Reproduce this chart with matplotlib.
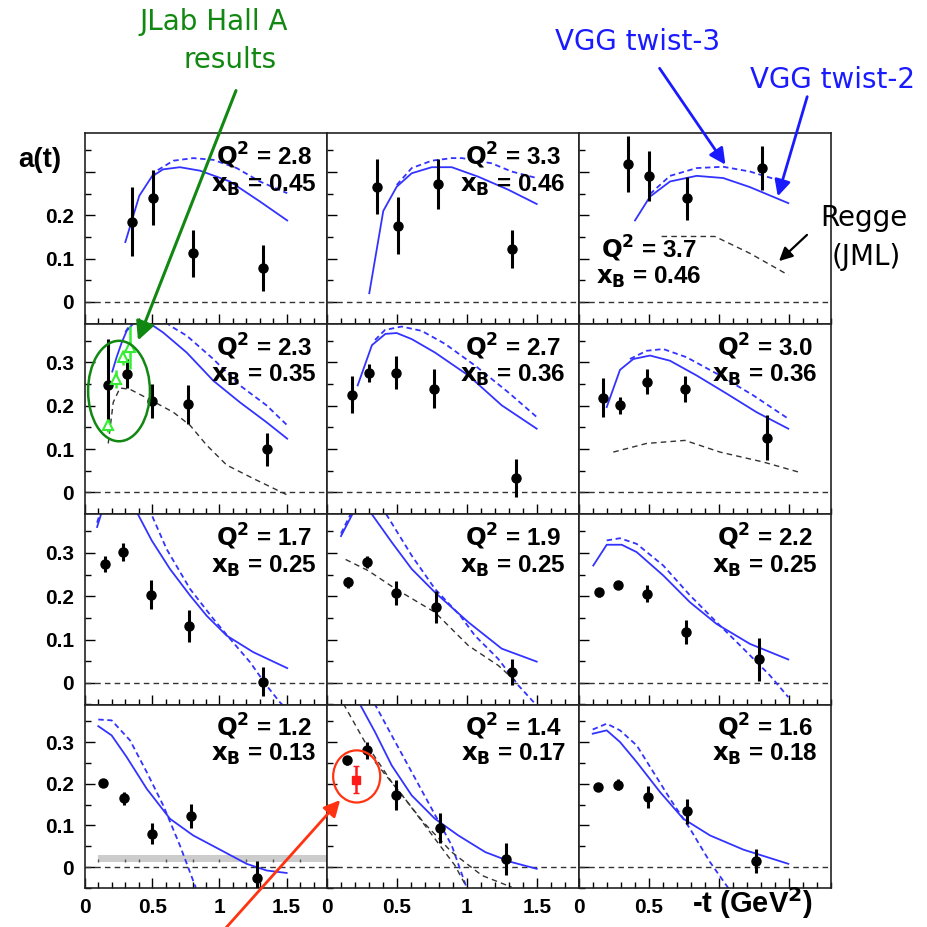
import matplotlib
matplotlib.use("Agg")
import matplotlib.pyplot as plt
from matplotlib.patches import Ellipse
from matplotlib.ticker import MultipleLocator
import numpy as np

plt.rcParams['font.family'] = ['Liberation Sans', 'DejaVu Sans']

# kinematic bins, row by row
q2_vals = ['2.8', '3.3', '3.7', '2.3', '2.7', '3.0', '1.7', '1.9', '2.2', '1.2', '1.4', '1.6']
xb_vals = ['0.45', '0.46', '0.46', '0.35', '0.36', '0.36', '0.25', '0.25', '0.25', '0.13', '0.17', '0.18']

# measured a(t): -t, value, error
t_28 = [0.347, 0.508, 0.80, 1.326]
a_28 = [0.185, 0.241, 0.112, 0.079]
e_28 = [0.080, 0.063, 0.054, 0.053]
t_33 = [0.355, 0.505, 0.79, 1.324]
a_33 = [0.266, 0.176, 0.272, 0.122]
e_33 = [0.063, 0.066, 0.057, 0.043]
t_37 = [0.352, 0.50, 0.769, 1.305]
a_37 = [0.318, 0.291, 0.239, 0.309]
e_37 = [0.065, 0.057, 0.050, 0.050]
t_23 = [0.173, 0.31, 0.496, 0.768, 1.356]
a_23 = [0.248, 0.274, 0.211, 0.203, 0.099]
e_23 = [0.107, 0.033, 0.040, 0.044, 0.039]
t_27 = [0.181, 0.30, 0.49, 0.766, 1.35]
a_27 = [0.226, 0.276, 0.276, 0.239, 0.034]
e_27 = [0.042, 0.020, 0.038, 0.045, 0.044]
t_30 = [0.174, 0.293, 0.488, 0.757, 1.34]
a_30 = [0.218, 0.201, 0.256, 0.239, 0.126]
e_30 = [0.045, 0.020, 0.028, 0.030, 0.052]
t_17 = [0.149, 0.285, 0.488, 0.776, 1.326]
a_17 = [0.275, 0.302, 0.204, 0.132, 0.003]
e_17 = [0.018, 0.020, 0.034, 0.037, 0.034]
t_19 = [0.148, 0.283, 0.49, 0.779, 1.319]
a_19 = [0.232, 0.279, 0.208, 0.176, 0.025]
e_19 = [0.012, 0.014, 0.028, 0.037, 0.030]
t_22 = [0.145, 0.281, 0.488, 0.764, 1.288]
a_22 = [0.209, 0.226, 0.206, 0.118, 0.054]
e_22 = [0.010, 0.010, 0.020, 0.028, 0.050]
t_12 = [0.136, 0.29, 0.50, 0.786, 1.281]
a_12 = [0.202, 0.165, 0.080, 0.122, -0.026]
e_12 = [0.009, 0.015, 0.025, 0.029, 0.040]
t_14 = [0.141, 0.283, 0.49, 0.81, 1.276]
a_14 = [0.256, 0.280, 0.172, 0.094, 0.020]
e_14 = [0.010, 0.020, 0.036, 0.037, 0.039]
t_16 = [0.138, 0.281, 0.491, 0.769, 1.264]
a_16 = [0.192, 0.198, 0.168, 0.134, 0.014]
e_16 = [0.009, 0.014, 0.027, 0.030, 0.029]

# VGG twist-2 (solid) and twist-3 (dashed)
tw2_t_28 = [0.30, 0.404, 0.496, 0.58, 0.706, 0.855, 1.078, 1.30, 1.504]
tw2_a_28 = [0.138, 0.245, 0.289, 0.306, 0.311, 0.303, 0.278, 0.232, 0.188]
tw3_t_28 = [0.496, 0.545, 0.657, 0.805, 0.954, 1.128, 1.30, 1.504]
tw3_a_28 = [0.289, 0.305, 0.326, 0.332, 0.328, 0.309, 0.278, 0.251]
tw2_t_33 = [0.302, 0.402, 0.498, 0.605, 0.748, 0.891, 1.081, 1.295, 1.498]
tw2_a_33 = [0.020, 0.210, 0.266, 0.297, 0.311, 0.311, 0.289, 0.259, 0.226]
tw3_t_33 = [0.498, 0.605, 0.748, 0.891, 0.964, 1.176, 1.319, 1.498]
tw3_a_33 = [0.270, 0.309, 0.326, 0.332, 0.332, 0.320, 0.301, 0.286]
tw2_t_37 = [0.40, 0.507, 0.65, 0.84, 1.03, 1.221, 1.495]
tw2_a_37 = [0.188, 0.243, 0.278, 0.291, 0.286, 0.265, 0.228]
tw3_t_37 = [0.507, 0.65, 0.84, 1.03, 1.221, 1.495]
tw3_a_37 = [0.249, 0.291, 0.309, 0.312, 0.301, 0.274]
tw2_t_23 = [0.203, 0.235, 0.273, 0.31, 0.36, 0.42, 0.483, 0.582, 0.756, 0.954, 1.152, 1.35, 1.504]
tw2_a_23 = [0.279, 0.312, 0.346, 0.373, 0.390, 0.395, 0.390, 0.369, 0.323, 0.258, 0.208, 0.162, 0.124]
tw3_t_23 = [0.30, 0.36, 0.45, 0.55, 0.632, 0.756, 0.954, 1.152, 1.35, 1.504]
tw3_a_23 = [0.370, 0.400, 0.420, 0.410, 0.385, 0.362, 0.308, 0.247, 0.201, 0.155]
tw2_t_27 = [0.219, 0.321, 0.417, 0.498, 0.605, 0.771, 1.01, 1.248, 1.498]
tw2_a_27 = [0.247, 0.340, 0.366, 0.368, 0.354, 0.323, 0.270, 0.201, 0.147]
tw3_t_27 = [0.343, 0.414, 0.533, 0.676, 0.843, 1.057, 1.295, 1.498]
tw3_a_27 = [0.352, 0.375, 0.383, 0.373, 0.343, 0.293, 0.231, 0.174]
tw2_t_30 = [0.198, 0.293, 0.388, 0.507, 0.65, 0.84, 1.055, 1.269, 1.495]
tw2_a_30 = [0.197, 0.283, 0.308, 0.316, 0.304, 0.270, 0.228, 0.185, 0.147]
tw3_t_30 = [0.364, 0.483, 0.602, 0.769, 1.007, 1.245, 1.495]
tw3_a_30 = [0.308, 0.327, 0.331, 0.312, 0.270, 0.224, 0.170]
tw2_t_17 = [0.09, 0.14, 0.20, 0.28, 0.35, 0.396, 0.496, 0.632, 0.781, 0.905, 1.054, 1.251, 1.504]
tw2_a_17 = [0.360, 0.410, 0.450, 0.460, 0.420, 0.388, 0.329, 0.263, 0.202, 0.155, 0.109, 0.071, 0.034]
tw3_t_17 = [0.09, 0.20, 0.30, 0.40, 0.496, 0.607, 0.781, 0.954, 1.078, 1.227, 1.35, 1.45, 1.50]
tw3_a_17 = [0.370, 0.480, 0.490, 0.450, 0.388, 0.309, 0.217, 0.148, 0.102, 0.048, -0.006, -0.045, -0.060]
tw2_t_19 = [0.10, 0.19, 0.24, 0.319, 0.462, 0.605, 0.771, 1.01, 1.248, 1.498]
tw2_a_19 = [0.339, 0.395, 0.410, 0.390, 0.325, 0.263, 0.209, 0.140, 0.079, 0.049]
tw3_t_19 = [0.10, 0.20, 0.30, 0.426, 0.605, 0.771, 0.952, 1.057, 1.224, 1.367, 1.486, 1.50]
tw3_a_19 = [0.345, 0.410, 0.430, 0.388, 0.294, 0.217, 0.155, 0.109, 0.055, -0.006, -0.048, -0.053]
tw2_t_22 = [0.102, 0.198, 0.305, 0.412, 0.602, 0.793, 0.983, 1.221, 1.495]
tw2_a_22 = [0.271, 0.319, 0.319, 0.302, 0.248, 0.186, 0.136, 0.090, 0.054]
tw3_t_22 = [0.198, 0.293, 0.412, 0.602, 0.793, 0.983, 1.174, 1.364, 1.495]
tw3_a_22 = [0.329, 0.334, 0.321, 0.271, 0.202, 0.140, 0.079, 0.017, -0.033]
tw2_t_12 = [0.099, 0.198, 0.31, 0.459, 0.632, 0.805, 1.004, 1.202, 1.351, 1.50]
tw2_a_12 = [0.338, 0.316, 0.264, 0.188, 0.116, 0.076, 0.042, 0.008, -0.008, -0.014]
tw3_t_12 = [0.099, 0.198, 0.335, 0.459, 0.582, 0.706, 0.818, 0.83]
tw3_a_12 = [0.354, 0.352, 0.304, 0.228, 0.148, 0.052, -0.044, -0.055]
tw2_t_14 = [0.20, 0.236, 0.343, 0.462, 0.605, 0.771, 0.938, 1.131, 1.319, 1.498]
tw2_a_14 = [0.420, 0.390, 0.324, 0.244, 0.172, 0.116, 0.076, 0.036, 0.012, -0.004]
tw3_t_14 = [0.25, 0.343, 0.462, 0.605, 0.748, 0.891, 0.998, 1.01]
tw3_a_14 = [0.450, 0.390, 0.316, 0.228, 0.140, 0.052, -0.050, -0.060]
tw2_t_16 = [0.098, 0.198, 0.293, 0.412, 0.579, 0.745, 0.936, 1.174, 1.495]
tw2_a_16 = [0.320, 0.328, 0.300, 0.252, 0.180, 0.116, 0.076, 0.042, 0.008]
tw3_t_16 = [0.098, 0.198, 0.293, 0.412, 0.531, 0.65, 0.793, 0.936, 1.066, 1.08]
tw3_a_16 = [0.330, 0.344, 0.328, 0.292, 0.228, 0.164, 0.092, 0.012, -0.050, -0.058]

# Regge (JML)
rg_t_37 = [0.59, 0.971, 1.221, 1.495]
rg_a_37 = [0.151, 0.151, 0.112, 0.062]
rg_t_23 = [0.173, 0.21, 0.26, 0.335, 0.496, 0.657, 0.781, 0.905, 1.054, 1.251, 1.504]
rg_a_23 = [0.113, 0.208, 0.241, 0.238, 0.212, 0.185, 0.155, 0.109, 0.063, 0.032, -0.006]
rg_t_30 = [0.245, 0.483, 0.757, 1.007, 1.317, 1.567]
rg_a_30 = [0.093, 0.113, 0.120, 0.093, 0.070, 0.047]
rg_t_19 = [0.133, 0.295, 0.49, 0.771, 1.01, 1.224, 1.367]
rg_a_19 = [0.285, 0.259, 0.217, 0.163, 0.086, 0.040, -0.002]
rg_t_14 = [0.117, 0.271, 0.462, 0.688, 0.891, 1.107, 1.319]
rg_a_14 = [0.392, 0.300, 0.204, 0.108, 0.036, -0.020, -0.048]
rg2_t_14 = [0.343, 0.557, 0.771, 0.914, 1.00]
rg2_a_14 = [0.252, 0.164, 0.068, 0.004, -0.050]

# JLab Hall A points (Q2 = 2.3 bin) and extra point in Q2 = 1.4 bin
jlab_t = [0.173, 0.23, 0.28, 0.335]
jlab_a = [0.155, 0.262, 0.312, 0.335]
jlab_e = [0.015, 0.020, 0.017, 0.050]
red_t = [0.207]
red_a = [0.210]
red_e = [0.032]

# systematic band, Q2 = 1.2 bin
band_t = [0.1, 1.8]
band_lo = [0.012, 0.012]
band_hi = [0.028, 0.028]
band_marks = [0.1, 0.3, 0.4, 0.6, 0.8, 1.0, 1.2, 1.4, 1.6]

data = [(t_28, a_28, e_28), (t_33, a_33, e_33), (t_37, a_37, e_37),
        (t_23, a_23, e_23), (t_27, a_27, e_27), (t_30, a_30, e_30),
        (t_17, a_17, e_17), (t_19, a_19, e_19), (t_22, a_22, e_22),
        (t_12, a_12, e_12), (t_14, a_14, e_14), (t_16, a_16, e_16)]
twist2 = [(tw2_t_28, tw2_a_28), (tw2_t_33, tw2_a_33), (tw2_t_37, tw2_a_37),
          (tw2_t_23, tw2_a_23), (tw2_t_27, tw2_a_27), (tw2_t_30, tw2_a_30),
          (tw2_t_17, tw2_a_17), (tw2_t_19, tw2_a_19), (tw2_t_22, tw2_a_22),
          (tw2_t_12, tw2_a_12), (tw2_t_14, tw2_a_14), (tw2_t_16, tw2_a_16)]
twist3 = [(tw3_t_28, tw3_a_28), (tw3_t_33, tw3_a_33), (tw3_t_37, tw3_a_37),
          (tw3_t_23, tw3_a_23), (tw3_t_27, tw3_a_27), (tw3_t_30, tw3_a_30),
          (tw3_t_17, tw3_a_17), (tw3_t_19, tw3_a_19), (tw3_t_22, tw3_a_22),
          (tw3_t_12, tw3_a_12), (tw3_t_14, tw3_a_14), (tw3_t_16, tw3_a_16)]
regge = {2: [(rg_t_37, rg_a_37)], 3: [(rg_t_23, rg_a_23)], 5: [(rg_t_30, rg_a_30)],
         7: [(rg_t_19, rg_a_19)], 10: [(rg_t_14, rg_a_14), (rg2_t_14, rg2_a_14)]}

BLUE = '#3333ff'

fig = plt.figure(figsize=(9.27, 9.27), dpi=100)
gs = fig.add_gridspec(4, 3, left=85/927, right=831/927, top=1-133/927, bottom=1-888/927,
                      wspace=0, hspace=0, width_ratios=[242, 252, 252],
                      height_ratios=[190.5, 190.5, 190.5, 183.5])

axes = []
for i in range(12):
    r, c = divmod(i, 3)
    ax = fig.add_subplot(gs[r, c])
    axes.append(ax)
    ax.set_xlim(0, 1.8)
    ax.set_ylim(-0.05, 0.39)
    ax.axhline(0, color='#333333', lw=1.0, ls=(0, (4, 3)))

    if i == 9:
        ax.fill_between(band_t, band_lo, band_hi, color='#cccccc', lw=0, zorder=1)
        ax.vlines(band_marks, band_lo[0], band_lo[0] + 0.008, color='#555555', lw=1)

    t2, a2 = twist2[i]
    ax.plot(t2, a2, color=BLUE, lw=1.3)
    t3, a3 = twist3[i]
    ax.plot(t3, a3, color=BLUE, lw=1.3, ls=(0, (3, 2)))
    for tr, ar in regge.get(i, []):
        ax.plot(tr, ar, color='#333333', lw=1.0, ls=(0, (4, 3)))

    t, a, e = data[i]
    ax.errorbar(t, a, yerr=e, fmt='o', color='black', ms=6.5, elinewidth=2.2,
                capsize=0, zorder=5)

    if i == 2:
        qx, qy, xy = 0.5, 0.122, 0.056
    else:
        qx, qy, xy = 1.33, 0.336, 0.270
    ax.text(qx, qy, '$\\mathbf{Q^2}$ = ' + q2_vals[i], ha='center', va='center',
            fontsize=17.5, fontweight='bold')
    ax.text(qx, xy, '$\\mathbf{x_B}$ = ' + xb_vals[i], ha='center', va='center',
            fontsize=17.5, fontweight='bold')

    ax.xaxis.set_major_locator(MultipleLocator(0.5))
    ax.xaxis.set_minor_locator(MultipleLocator(0.1))
    ax.yaxis.set_major_locator(MultipleLocator(0.1))
    ax.yaxis.set_minor_locator(MultipleLocator(0.05))
    ax.tick_params(which='both', direction='in', top=False, right=False, width=1)
    ax.tick_params(which='major', length=7)
    ax.tick_params(which='minor', length=4)
    for s in ax.spines.values():
        s.set_linewidth(1.2)
        s.set_color('#222222')

    if c == 0:
        ax.set_yticks([0, 0.1, 0.2, 0.3])
        labels = ['0', '0.1', '0.2', '0.3'] if r > 0 else ['0', '0.1', '0.2', '']
        ax.set_yticklabels(labels, fontsize=15, fontweight='bold')
        ax.tick_params(axis='y', pad=8)
    else:
        ax.set_yticklabels([])
    if r == 3:
        ax.set_xticks([0, 0.5, 1, 1.5])
        labels = ['0', '0.5', '1', '1.5'] if c < 2 else ['0', '0.5', '', '']
        ax.set_xticklabels(labels, fontsize=15, fontweight='bold')
        ax.tick_params(axis='x', pad=7)
    else:
        ax.set_xticklabels([])

# JLab Hall A points with the ellipse around them
ax = axes[3]
ax.errorbar(jlab_t, jlab_a, yerr=jlab_e, fmt='^', color='#33ee33', mfc='white', mec='#33ee33',
            ms=7, mew=1.5, elinewidth=1.8, capsize=0, zorder=6)
ax.add_patch(Ellipse((0.253, 0.234), 0.46, 0.232, fill=False, ec='#118811', lw=1.8,
                     clip_on=False, zorder=7))

# extra measurement in the Q2 = 1.4 bin, circled
ax = axes[10]
ax.errorbar(red_t, red_a, yerr=red_e, fmt='s', color='#ff1a1a', ms=5.5, elinewidth=1.8,
            capsize=2, zorder=6)
ax.add_patch(Ellipse((0.212, 0.2175), 0.336, 0.125, fill=False, ec='#ff3311', lw=1.6,
                     clip_on=False, zorder=7))

# annotations in pixel coordinates
ov = fig.add_axes([0, 0, 1, 1], zorder=10)
ov.set_xlim(0, 927)
ov.set_ylim(927, 0)
ov.axis('off')
ov.patch.set_alpha(0)

note = dict(fontsize=20, ha='center', va='center', family='DejaVu Sans')
ov.text(214, 22, 'JLab Hall A', color='#118811', **note)
ov.text(230, 60, 'results', color='#118811', **note)
ov.annotate('', xy=(137, 343), xytext=(237, 88),
            arrowprops=dict(arrowstyle='-|>', color='#118811', lw=2.2, mutation_scale=28))

ov.text(638, 42, 'VGG twist-3', color='#1a1aff', **note)
ov.text(833, 80, 'VGG twist-2', color='#1a1aff', **note)
ov.annotate('', xy=(727, 167), xytext=(658, 66),
            arrowprops=dict(arrowstyle='-|>', color='#1a1aff', lw=2.0, mutation_scale=24))
ov.annotate('', xy=(777, 199), xytext=(808, 94),
            arrowprops=dict(arrowstyle='-|>', color='#1a1aff', lw=2.0, mutation_scale=24))

ov.text(864, 218, 'Regge', color='black', **note)
ov.text(866, 257, '(JML)', color='black', **note)
ov.annotate('', xy=(777, 263), xytext=(809, 233),
            arrowprops=dict(arrowstyle='-|>', color='black', lw=1.6, mutation_scale=20))

ov.annotate('', xy=(342, 798), xytext=(224, 930),
            arrowprops=dict(arrowstyle='-|>', color='#ff3311', lw=2.0, mutation_scale=24))

ov.text(40, 160, 'a(t)', fontsize=20, fontweight='bold', ha='center', va='center')
ov.text(752, 903, '-t (GeV$\\mathbf{^2}$)', fontsize=21, fontweight='bold', ha='center',
        va='center')

fig.savefig('out.png', dpi=100)
